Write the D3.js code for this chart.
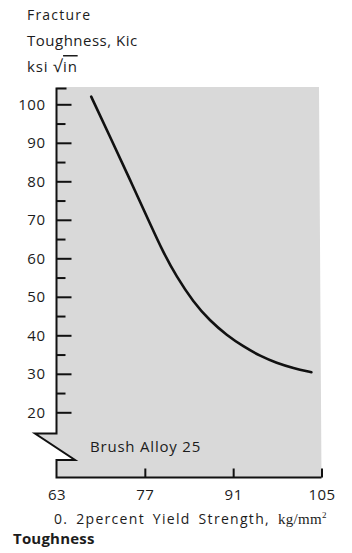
<!DOCTYPE html>
<html>
<head>
<meta charset="utf-8">
<script src="https://cdn.jsdelivr.net/npm/d3@7"></script>
<style>
  body { margin: 0; background: #fff; }
  text { font-family: "Open Sans", sans-serif; fill: #1c1c1c; }
</style>
</head>
<body>
<div id="wrapper"></div>
<script>
// data
const yieldStrength = [68.5, 71.5, 74.6, 77.8, 79.9, 82.0, 84.7, 87.3, 90.0, 92.6, 95.3, 97.9, 100.5, 103.4];
const toughness = [102, 91.5, 80.6, 69.1, 61.6, 55.3, 48.6, 43.8, 40.0, 37.1, 34.6, 32.8, 31.5, 30.4];
const xTicks = [63, 77, 91, 105];
const yMajorTicks = [20, 30, 40, 50, 60, 70, 80, 90, 100];
const yMinorTicks = [25, 35, 45, 55, 65, 75, 85, 95];

const width = 352;
const height = 553;

const svg = d3.select("#wrapper")
  .append("svg")
  .attr("width", width)
  .attr("height", height);

// scales
const xScale = d3.scaleLinear().domain([63, 105]).range([56.5, 321.5]);
const yScale = d3.scaleLinear().domain([20, 100]).range([412.3, 104.3]);

const axisX = xScale(63);
const bottomY = 477.5;
const topY = 87;
const rightX = 319;
const breakTop = 433.5;
const breakBottom = 460;

// grey panel with the axis break notch
const panel = [
  [axisX, topY], [rightX, topY], [rightX + 2.5, bottomY], [axisX, bottomY],
  [axisX, breakBottom], [75, breakBottom], [35, breakTop], [axisX, breakTop]
];
svg.append("path")
  .attr("d", d3.line()(panel) + "Z")
  .attr("fill", "#d9d9d9");

// axis outline with break
const outline = [
  [axisX + 10, topY + 1.5], [axisX, topY + 1.5], [axisX, breakTop], [35, breakTop], [75, breakBottom],
  [axisX, breakBottom], [axisX, bottomY], [xScale(105), bottomY]
];
svg.append("path")
  .attr("d", d3.line()(outline))
  .attr("fill", "none")
  .attr("stroke", "#111")
  .attr("stroke-width", 2)
  .attr("stroke-linejoin", "miter");

// y axis: major ticks + labels
const yAxis = svg.append("g")
  .attr("transform", `translate(${axisX},0)`)
  .call(d3.axisLeft(yScale).tickValues(yMajorTicks).tickSize(-15).tickPadding(11));
yAxis.select(".domain").remove();
yAxis.selectAll(".tick line").attr("stroke", "#111").attr("stroke-width", 2);
yAxis.selectAll(".tick text")
  .style("font-family", "Open Sans, sans-serif")
  .style("font-size", "15px")
  .style("letter-spacing", "0.5px")
  .attr("fill", "#1c1c1c");

// y axis: minor ticks
const yMinor = svg.append("g")
  .attr("transform", `translate(${axisX},0)`)
  .call(d3.axisLeft(yScale).tickValues(yMinorTicks).tickSize(-9).tickFormat(""));
yMinor.select(".domain").remove();
yMinor.selectAll(".tick line").attr("stroke", "#111").attr("stroke-width", 2);

// x axis
const xAxis = svg.append("g")
  .attr("transform", `translate(0,${bottomY})`)
  .call(d3.axisBottom(xScale).tickValues(xTicks).tickSize(-9).tickPadding(12));
xAxis.select(".domain").remove();
xAxis.selectAll(".tick line").attr("stroke", "#111").attr("stroke-width", 2);
xAxis.selectAll(".tick").filter(d => d === 63).select("line").remove();
xAxis.selectAll(".tick text")
  .style("font-family", "Open Sans, sans-serif")
  .style("font-size", "15px")
  .style("letter-spacing", "0.5px")
  .attr("fill", "#1c1c1c");

// curve
const curve = d3.line()
  .x((d, i) => xScale(yieldStrength[i]))
  .y((d, i) => yScale(toughness[i]))
  .curve(d3.curveBasis);
svg.append("path")
  .attr("d", curve(yieldStrength))
  .attr("fill", "none")
  .attr("stroke", "#111")
  .attr("stroke-width", 2.6)
  .attr("stroke-linecap", "round");

// titles
svg.append("text").attr("x", 27).attr("y", 20)
  .style("font-size", "14px").style("letter-spacing", "1.2px")
  .text("Fracture");
svg.append("text").attr("x", 27).attr("y", 46)
  .style("font-size", "15px").style("letter-spacing", "0.5px")
  .text("Toughness, Kic");
const unit = svg.append("text").attr("x", 27).attr("y", 72)
  .style("font-size", "15px").style("letter-spacing", "0.8px");
unit.append("tspan").text("ksi ");
unit.append("tspan").style("font-size", "17px").text("√");
unit.append("tspan").style("text-decoration", "overline").text("in");

svg.append("text").attr("x", 90).attr("y", 452)
  .style("font-size", "15px").style("letter-spacing", "0.8px")
  .text("Brush Alloy 25");

const xLabel = svg.append("text").attr("x", 54).attr("y", 524)
  .style("font-size", "14px").style("letter-spacing", "1.3px").style("word-spacing", "3px");
xLabel.append("tspan").text("0. 2percent Yield Strength, ");
xLabel.append("tspan").style("font-family", "Liberation Serif, serif").style("font-size", "15px").style("letter-spacing", "0.3px").text("kg/mm");
xLabel.append("tspan").style("font-family", "Liberation Serif, serif").style("font-size", "9px").attr("dy", -6).text("2");

svg.append("text").attr("x", 13).attr("y", 544)
  .style("font-size", "15px").style("font-weight", "bold").style("letter-spacing", "0.2px")
  .text("Toughness");
</script>
</body>
</html>
